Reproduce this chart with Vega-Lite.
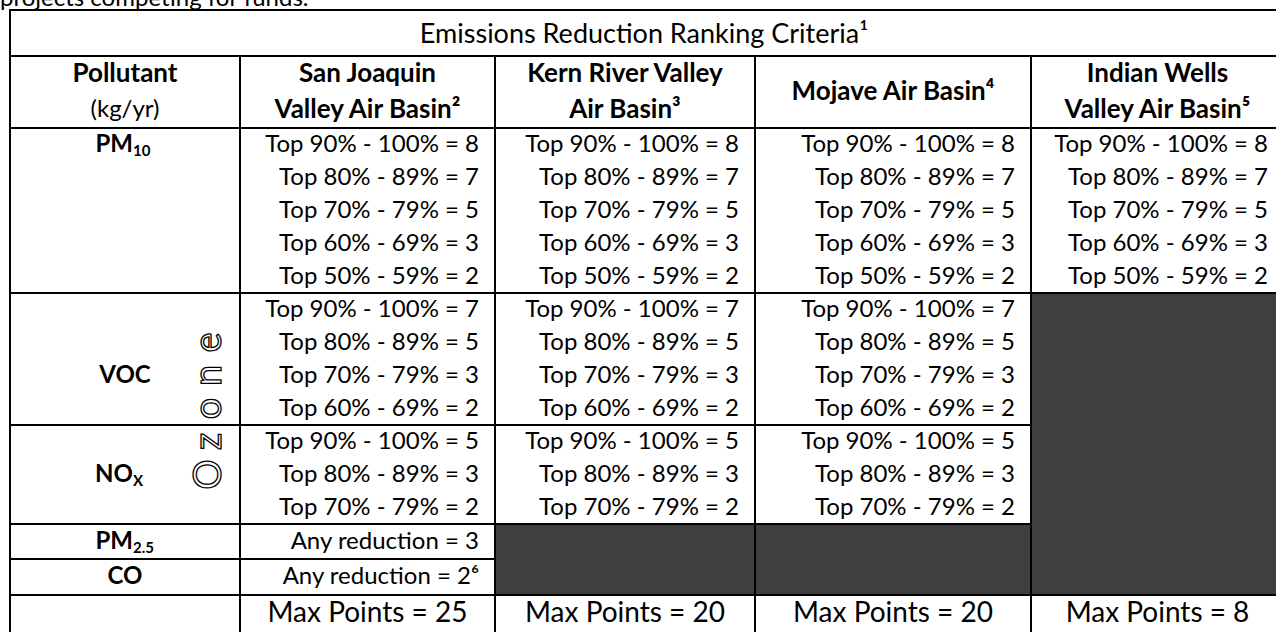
{
  "$schema": "https://vega.github.io/schema/vega-lite/v6.json",
  "width": 1276,
  "height": 632,
  "autosize": {"type": "none"},
  "padding": 0,
  "background": "white",
  "config": {"view": {"stroke": null}, "text": {"font": "Lato", "color": "#000000"}},
  "datasets": {
    "fills": [
      {"c0": 2, "c1": 4, "r0": 15, "r1": 17},
      {"c0": 4, "c1": 5, "r0": 8, "r1": 17}
    ],
    "hlines": [
      {"r": 0, "c0": 0, "c1": 5},
      {"r": 1, "c0": 0, "c1": 5},
      {"r": 3, "c0": 0, "c1": 5},
      {"r": 8, "c0": 0, "c1": 5},
      {"r": 12, "c0": 0, "c1": 4},
      {"r": 15, "c0": 0, "c1": 4},
      {"r": 16, "c0": 0, "c1": 2},
      {"r": 17, "c0": 0, "c1": 5},
      {"r": 18, "c0": 0, "c1": 5}
    ],
    "vlines": [
      {"c": 0, "r0": 0, "r1": 18},
      {"c": 1, "r0": 1, "r1": 18},
      {"c": 2, "r0": 1, "r1": 18},
      {"c": 3, "r0": 1, "r1": 18},
      {"c": 4, "r0": 1, "r1": 18},
      {"c": 5, "r0": 0, "r1": 18}
    ],
    "body": [
      {"col": 1, "row": 3, "text": "Top 90% - 100% = 8"},
      {"col": 1, "row": 4, "text": "Top 80% - 89% = 7"},
      {"col": 1, "row": 5, "text": "Top 70% - 79% = 5"},
      {"col": 1, "row": 6, "text": "Top 60% - 69% = 3"},
      {"col": 1, "row": 7, "text": "Top 50% - 59% = 2"},
      {"col": 1, "row": 8, "text": "Top 90% - 100% = 7"},
      {"col": 1, "row": 9, "text": "Top 80% - 89% = 5"},
      {"col": 1, "row": 10, "text": "Top 70% - 79% = 3"},
      {"col": 1, "row": 11, "text": "Top 60% - 69% = 2"},
      {"col": 1, "row": 12, "text": "Top 90% - 100% = 5"},
      {"col": 1, "row": 13, "text": "Top 80% - 89% = 3"},
      {"col": 1, "row": 14, "text": "Top 70% - 79% = 2"},
      {"col": 1, "row": 15, "text": "Any reduction = 3"},
      {"col": 1, "row": 16, "text": "Any reduction = 2⁶"},
      {"col": 2, "row": 3, "text": "Top 90% - 100% = 8"},
      {"col": 2, "row": 4, "text": "Top 80% - 89% = 7"},
      {"col": 2, "row": 5, "text": "Top 70% - 79% = 5"},
      {"col": 2, "row": 6, "text": "Top 60% - 69% = 3"},
      {"col": 2, "row": 7, "text": "Top 50% - 59% = 2"},
      {"col": 2, "row": 8, "text": "Top 90% - 100% = 7"},
      {"col": 2, "row": 9, "text": "Top 80% - 89% = 5"},
      {"col": 2, "row": 10, "text": "Top 70% - 79% = 3"},
      {"col": 2, "row": 11, "text": "Top 60% - 69% = 2"},
      {"col": 2, "row": 12, "text": "Top 90% - 100% = 5"},
      {"col": 2, "row": 13, "text": "Top 80% - 89% = 3"},
      {"col": 2, "row": 14, "text": "Top 70% - 79% = 2"},
      {"col": 3, "row": 3, "text": "Top 90% - 100% = 8"},
      {"col": 3, "row": 4, "text": "Top 80% - 89% = 7"},
      {"col": 3, "row": 5, "text": "Top 70% - 79% = 5"},
      {"col": 3, "row": 6, "text": "Top 60% - 69% = 3"},
      {"col": 3, "row": 7, "text": "Top 50% - 59% = 2"},
      {"col": 3, "row": 8, "text": "Top 90% - 100% = 7"},
      {"col": 3, "row": 9, "text": "Top 80% - 89% = 5"},
      {"col": 3, "row": 10, "text": "Top 70% - 79% = 3"},
      {"col": 3, "row": 11, "text": "Top 60% - 69% = 2"},
      {"col": 3, "row": 12, "text": "Top 90% - 100% = 5"},
      {"col": 3, "row": 13, "text": "Top 80% - 89% = 3"},
      {"col": 3, "row": 14, "text": "Top 70% - 79% = 2"},
      {"col": 4, "row": 3, "text": "Top 90% - 100% = 8"},
      {"col": 4, "row": 4, "text": "Top 80% - 89% = 7"},
      {"col": 4, "row": 5, "text": "Top 70% - 79% = 5"},
      {"col": 4, "row": 6, "text": "Top 60% - 69% = 3"},
      {"col": 4, "row": 7, "text": "Top 50% - 59% = 2"}
    ],
    "title": [{"col": 2, "row": 0, "text": "Emissions Reduction Ranking Criteria¹"}],
    "headersBold": [
      {"col": 0, "row": 1, "text": "Pollutant"},
      {"col": 1, "row": 1, "text": "San Joaquin"},
      {"col": 1, "row": 2, "text": "Valley Air Basin²"},
      {"col": 2, "row": 1, "text": "Kern River Valley"},
      {"col": 2, "row": 2, "text": "Air Basin³"},
      {"col": 3, "row": 1.5, "text": "Mojave Air Basin⁴"},
      {"col": 4, "row": 1, "text": "Indian Wells"},
      {"col": 4, "row": 2, "text": "Valley Air Basin⁵"}
    ],
    "headersPlain": [{"col": 0, "row": 2, "text": "(kg/yr)"}],
    "pollutants": [
      {"col": 0, "row": 10, "text": "VOC"},
      {"col": 0, "row": 16, "text": "CO"}
    ],
    "pollutantsSub": [
      {"col": 0, "row": 3, "base": "PM", "sub": "10"},
      {"col": 0, "row": 13, "base": "NO", "sub": "X"},
      {"col": 0, "row": 15, "base": "PM", "sub": "2.5"}
    ],
    "ozone": [
      {"col": 1, "row": 9, "letter": "e"},
      {"col": 1, "row": 10, "letter": "n"},
      {"col": 1, "row": 11, "letter": "o"},
      {"col": 1, "row": 12, "letter": "z"},
      {"col": 1, "row": 13, "letter": "O"}
    ],
    "maxpts": [
      {"col": 1, "row": 17, "text": "Max Points = 25"},
      {"col": 2, "row": 17, "text": "Max Points = 20"},
      {"col": 3, "row": 17, "text": "Max Points = 20"},
      {"col": 4, "row": 17, "text": "Max Points = 8"}
    ],
    "above": [{"col": 0, "row": 0, "text": "projects competing for funds."}]
  },
  "layer": [
    {
      "data": {"name": "fills"},
      "mark": {"type": "rect", "color": "#3f3f3f"},
      "encoding": {
        "x": {"field": "c0", "type": "quantitative", "axis": null, "scale": {"type": "linear", "domain": [0, 1, 2, 3, 4, 5], "range": [10, 240, 495, 755, 1031, 1284], "nice": false, "zero": false}},
        "x2": {"field": "c1"},
        "y": {"field": "r0", "type": "quantitative", "axis": null, "scale": {"type": "linear", "domain": [0, 1, 2, 3, 4, 5, 6, 7, 8, 9, 10, 11, 12, 13, 14, 15, 16, 17, 18], "range": [10, 56, 92, 128, 161, 194, 227, 260, 293, 326, 359, 392, 425, 458, 491, 524, 559, 595, 633], "nice": false, "zero": false}},
        "y2": {"field": "r1"}
      }
    },
    {
      "data": {"name": "hlines"},
      "mark": {"type": "rule", "color": "#000000", "strokeWidth": 2, "strokeCap": "square"},
      "encoding": {
        "x": {"field": "c0", "type": "quantitative", "axis": null},
        "x2": {"field": "c1"},
        "y": {"field": "r", "type": "quantitative", "axis": null}
      }
    },
    {
      "data": {"name": "vlines"},
      "mark": {"type": "rule", "color": "#000000", "strokeWidth": 2, "strokeCap": "square"},
      "encoding": {
        "x": {"field": "c", "type": "quantitative", "axis": null},
        "y": {"field": "r0", "type": "quantitative", "axis": null},
        "y2": {"field": "r1"}
      }
    },
    {
      "data": {"name": "body"},
      "transform": [{"calculate": "datum.col + 1", "as": "xr"}, {"calculate": "datum.row + 0.5", "as": "yc"}],
      "mark": {"type": "text", "align": "right", "baseline": "middle", "dx": -16, "fontSize": 24},
      "encoding": {
        "x": {"field": "xr", "type": "quantitative", "axis": null},
        "y": {"field": "yc", "type": "quantitative", "axis": null},
        "text": {"field": "text"}
      }
    },
    {
      "data": {"name": "title"},
      "transform": [{"calculate": "2.5", "as": "xc"}, {"calculate": "datum.row + 0.5", "as": "yc"}],
      "mark": {"type": "text", "align": "center", "baseline": "middle", "dx": 19, "dy": 2, "fontSize": 27},
      "encoding": {
        "x": {"field": "xc", "type": "quantitative", "axis": null},
        "y": {"field": "yc", "type": "quantitative", "axis": null},
        "text": {"field": "text"}
      }
    },
    {
      "data": {"name": "headersBold"},
      "transform": [{"calculate": "datum.col + 0.5", "as": "xc"}, {"calculate": "datum.row + 0.5", "as": "yc"}],
      "mark": {"type": "text", "align": "center", "baseline": "middle", "fontSize": 26, "fontWeight": "bold"},
      "encoding": {
        "x": {"field": "xc", "type": "quantitative", "axis": null},
        "y": {"field": "yc", "type": "quantitative", "axis": null},
        "text": {"field": "text"}
      }
    },
    {
      "data": {"name": "headersPlain"},
      "transform": [{"calculate": "datum.col + 0.5", "as": "xc"}, {"calculate": "datum.row + 0.5", "as": "yc"}],
      "mark": {"type": "text", "align": "center", "baseline": "middle", "fontSize": 24},
      "encoding": {
        "x": {"field": "xc", "type": "quantitative", "axis": null},
        "y": {"field": "yc", "type": "quantitative", "axis": null},
        "text": {"field": "text"}
      }
    },
    {
      "data": {"name": "pollutants"},
      "transform": [{"calculate": "datum.col + 0.5", "as": "xc"}, {"calculate": "datum.row + 0.5", "as": "yc"}],
      "mark": {"type": "text", "align": "center", "baseline": "middle", "fontSize": 24, "fontWeight": "bold"},
      "encoding": {
        "x": {"field": "xc", "type": "quantitative", "axis": null},
        "y": {"field": "yc", "type": "quantitative", "axis": null},
        "text": {"field": "text"}
      }
    },
    {
      "data": {"name": "pollutantsSub"},
      "transform": [{"calculate": "datum.col + 0.5", "as": "xc"}, {"calculate": "datum.row + 0.5", "as": "yc"}],
      "mark": {"type": "text", "align": "right", "baseline": "middle", "dx": 8, "fontSize": 24, "fontWeight": "bold"},
      "encoding": {
        "x": {"field": "xc", "type": "quantitative", "axis": null},
        "y": {"field": "yc", "type": "quantitative", "axis": null},
        "text": {"field": "base"}
      }
    },
    {
      "data": {"name": "pollutantsSub"},
      "transform": [{"calculate": "datum.col + 0.5", "as": "xc"}, {"calculate": "datum.row + 0.5", "as": "yc"}],
      "mark": {"type": "text", "align": "left", "baseline": "middle", "dx": 8, "dy": 6, "fontSize": 15, "fontWeight": "bold"},
      "encoding": {
        "x": {"field": "xc", "type": "quantitative", "axis": null},
        "y": {"field": "yc", "type": "quantitative", "axis": null},
        "text": {"field": "sub"}
      }
    },
    {
      "data": {"name": "ozone"},
      "transform": [{"calculate": "datum.row + 0.5", "as": "yc"}],
      "mark": {"type": "text", "align": "center", "baseline": "middle", "dy": -30, "angle": 270, "fontSize": 38, "fill": "white", "stroke": "black", "strokeWidth": 1.3},
      "encoding": {
        "x": {"field": "col", "type": "quantitative", "axis": null},
        "y": {"field": "yc", "type": "quantitative", "axis": null},
        "text": {"field": "letter"}
      }
    },
    {
      "data": {"name": "maxpts"},
      "transform": [{"calculate": "datum.col + 0.5", "as": "xc"}, {"calculate": "datum.row + 0.5", "as": "yc"}],
      "mark": {"type": "text", "align": "center", "baseline": "middle", "fontSize": 28},
      "encoding": {
        "x": {"field": "xc", "type": "quantitative", "axis": null},
        "y": {"field": "yc", "type": "quantitative", "axis": null},
        "text": {"field": "text"}
      }
    },
    {
      "data": {"name": "above"},
      "mark": {"type": "text", "align": "left", "baseline": "alphabetic", "dx": -10, "dy": -4, "fontSize": 24},
      "encoding": {
        "x": {"field": "col", "type": "quantitative", "axis": null},
        "y": {"field": "row", "type": "quantitative", "axis": null},
        "text": {"field": "text"}
      }
    }
  ]
}
